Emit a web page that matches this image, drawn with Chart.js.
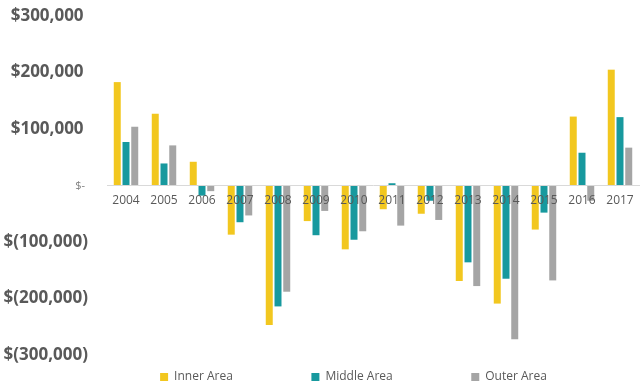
<!DOCTYPE html>
<html>
<head>
<meta charset="utf-8">
<script src="https://cdn.jsdelivr.net/npm/chart.js@4.4.1/dist/chart.umd.min.js"></script>
<style>
  html, body { margin: 0; padding: 0; background: #fff; }
  #wrap { width: 642px; height: 387px; position: relative; }
</style>
</head>
<body>
<div id="wrap"><canvas id="graf"></canvas></div>
<script>
const years = ['2004', '2005', '2006', '2007', '2008', '2009', '2010',
    '2011', '2012', '2013', '2014', '2015', '2016', '2017'];

const innerArea = [183000, 127000, 42000, -87000, -247000, -63000, -113000,
    -42000, -50000, -169000, -209000, -78000, 122000, 205000];
const middleArea = [77000, 39000, -18000, -65000, -214000, -88000, -96000,
    4000, -27000, -136000, -165000, -48000, 58000, 121000];
const outerArea = [104000, 71000, -10000, -53000, -188000, -45000, -81000,
    -71000, -61000, -178000, -272000, -168000, -27000, 67000];

const seriesNames = ['Inner Area', 'Middle Area', 'Outer Area'];
const yTicks = [-300000, -200000, -100000, 0, 100000, 200000, 300000];

const textGray = '#595959';

function money(v) {
    if (v === 0) return '$- ';
    let s = Math.abs(v).toLocaleString('en-US');
    return v < 0 ? '$(' + s + ')' : '$' + s + ' ';
}

// nudge the legend over so it sits where the original one does
const legendShift = {
    id: 'legendShift',
    afterLayout(chart) {
        chart.legend.left += 34;
        chart.legend.right += 34;
        chart.legend.top += 6;
        chart.legend.bottom += 6;
    }
};

new Chart('graf', {
    type: 'bar',
    data: {
        labels: years,
        datasets: [{
            label: seriesNames[0],
            data: innerArea,
            backgroundColor: '#F2C71F'
        }, {
            label: seriesNames[1],
            data: middleArea,
            backgroundColor: '#17999E'
        }, {
            label: seriesNames[2],
            data: outerArea,
            backgroundColor: '#A5A5A5'
        }]
    },
    options: {
        responsive: true,
        maintainAspectRatio: false,
        animation: false,
        layout: { padding: { top: 16, right: 3, left: 0, bottom: 0 } },
        datasets: {
            bar: { barPercentage: 0.8, categoryPercentage: 0.69 }
        },
        scales: {
            x: {
                position: { y: 0 },
                grid: { display: false, drawTicks: false },
                border: { display: true, color: '#D9D9D9', width: 1, z: 1 },
                ticks: {
                    z: 1,
                    color: textGray,
                    padding: 8,
                    maxRotation: 0,
                    font: { family: 'Open Sans', size: 12 }
                }
            },
            y: {
                min: -300000,
                max: 300000,
                afterBuildTicks(scale) {
                    scale.ticks = yTicks.map(v => ({ value: v }));
                },
                afterFit(scale) {
                    scale.width = 107;
                    // big labels + padding would push the plot down, keep it tight
                    scale.paddingTop = 0;
                    scale.paddingBottom = 0;
                },
                grid: { display: false, drawTicks: false },
                border: { display: false },
                ticks: {
                    padding: 19,
                    callback: v => money(v),
                    color: ctx => ctx.tick && ctx.tick.value === 0 ? '#7F7F7F' : textGray,
                    font: ctx => ctx.tick && ctx.tick.value === 0
                        ? { family: 'Open Sans', size: 11, weight: 'normal' }
                        : { family: 'Open Sans', size: 17, weight: 'bold' }
                }
            }
        },
        plugins: {
            legend: {
                position: 'bottom',
                labels: {
                    boxWidth: 8,
                    boxHeight: 8,
                    padding: 10,
                    color: textGray,
                    font: { family: 'Open Sans', size: 12 },
                    generateLabels(chart) {
                        let items = Chart.defaults.plugins.legend.labels.generateLabels(chart);
                        items.forEach((it, i) => {
                            it.lineWidth = 0;
                            if (i < items.length - 1) it.text = it.text + ' '.repeat(22);
                        });
                        return items;
                    }
                }
            },
            tooltip: { enabled: false }
        }
    },
    plugins: [legendShift]
});
</script>
</body>
</html>
